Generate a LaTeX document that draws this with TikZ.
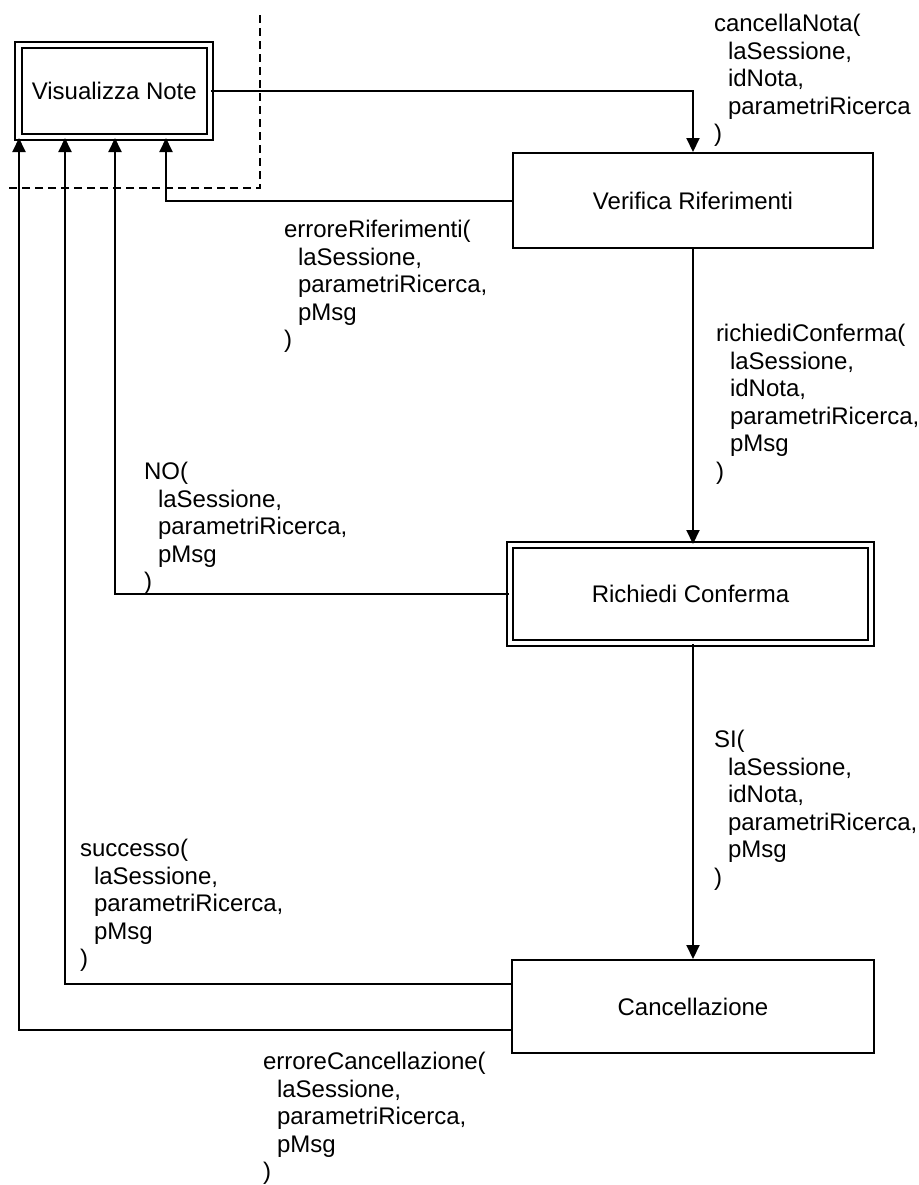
\documentclass[tikz,border=0pt]{standalone}
\usepackage{fontspec}
\setmainfont{Liberation Sans}
\usetikzlibrary{arrows.meta}
\newcommand{\ind}{\hspace*{7pt}}

\begin{document}
\begin{tikzpicture}[x=0.5pt,y=-0.5pt,>={Triangle[length=7pt,width=6.5pt]},line width=1pt,
  state/.style={draw,inner sep=0pt,font=\fontsize{12pt}{14pt}\selectfont},
  wait/.style={state,double,double distance=2.25pt},
  msg/.style={anchor=north west,align=left,inner sep=0pt,font=\fontsize{12pt}{13.8pt}\selectfont}]
\useasboundingbox (0,0) rectangle (919,1185);

% stati
\node[wait,minimum width=95.75pt,minimum height=46pt] (VN) at (114.25,91) {Visualizza Note};
\node[state,minimum width=180pt,minimum height=47.5pt] (VR) at (693,200.5) {Verifica Riferimenti};
\node[wait,minimum width=180.5pt,minimum height=49pt] (RC) at (690.5,594) {Richiedi Conferma};
\node[state,minimum width=181pt,minimum height=46.5pt] (CA) at (693,1006.5) {Cancellazione};

% confine
\draw[dash pattern=on 4pt off 2.5pt] (260,15) -- (260,188) -- (8,188);

% transizioni
\draw[->] (VN.east) -| (VR.north);
\draw[->] (VR.west) -| ([xshift=74.25pt]VN.south west);
\draw[->] (VR.south) -- (RC.north -| VR.south);
\draw[->] (RC.west) -| ([xshift=48.75pt]VN.south west);
\draw[->] (RC.south -| CA.north) -- (CA.north);
\draw[->] ([yshift=11.5pt]CA.west) -| ([xshift=23.75pt]VN.south west);
\draw[->] ([yshift=-11.5pt]CA.west) -| ([xshift=0.75pt]VN.south west);

% messaggi
\node[msg] (m1) at (713,13) {cancellaNota(\\\ind laSessione,\\\ind idNota,\\\ind parametriRicerca\\)};
\node[msg] (m2) at (283,219) {erroreRiferimenti(\\\ind laSessione,\\\ind parametriRicerca,\\\ind pMsg\\)};
\node[msg] (m3) at (715,323) {richiediConferma(\\\ind laSessione,\\\ind idNota,\\\ind parametriRicerca,\\\ind pMsg\\)};
\node[msg] (m4) at (143,461) {NO(\\\ind laSessione,\\\ind parametriRicerca,\\\ind pMsg\\)};
\node[msg] (m5) at (713,729) {SI(\\\ind laSessione,\\\ind idNota,\\\ind parametriRicerca,\\\ind pMsg\\)};
\node[msg] (m6) at (79,838) {successo(\\\ind laSessione,\\\ind parametriRicerca,\\\ind pMsg\\)};
\node[msg] (m7) at (262,1051) {erroreCancellazione(\\\ind laSessione,\\\ind parametriRicerca,\\\ind pMsg\\)};
\end{tikzpicture}
\end{document}
